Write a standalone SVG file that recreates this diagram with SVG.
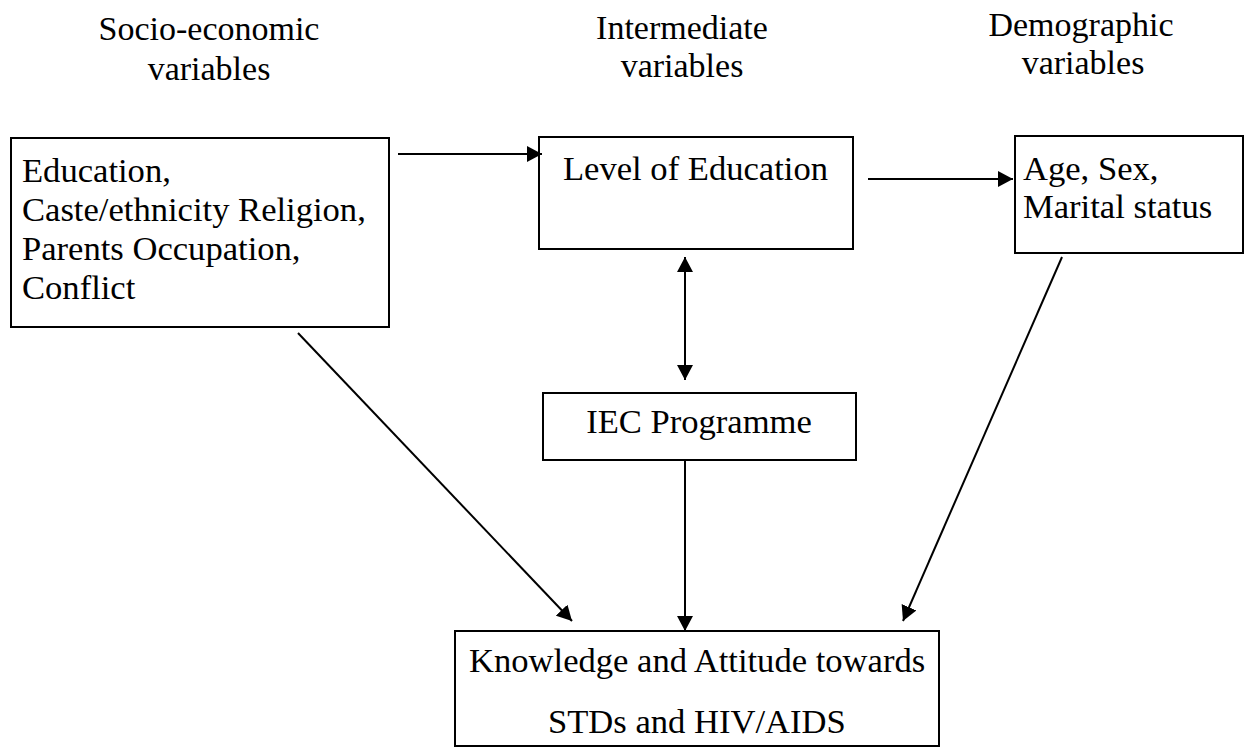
<svg xmlns="http://www.w3.org/2000/svg" width="1246" height="756" viewBox="0 0 1246 756">
<style>
.box{fill:#fff;stroke:#000;stroke-width:2}
.t{font-family:"Liberation Serif","Times New Roman",serif;font-size:34.6px;fill:#000}
.h{font-family:"Liberation Serif","Times New Roman",serif;font-size:34px;fill:#000;text-anchor:middle}
.c{stroke:#000;stroke-width:2;fill:none}
</style>
<defs>
<marker id="ah" markerUnits="userSpaceOnUse" markerWidth="16" markerHeight="16" refX="15" refY="8" orient="auto-start-reverse">
<path d="M0,0 L15,8 L0,16 z" fill="#000"/>
</marker>
</defs>
<g id="headers">
<text class="h" x="209" y="40">Socio-economic</text>
<text class="h" x="209" y="80">variables</text>
<text class="h" x="682" y="39">Intermediate</text>
<text class="h" x="682" y="77">variables</text>
<text class="h" x="1081" y="36">Demographic</text>
<text class="h" x="1083" y="74">variables</text>
</g>
<g id="socio">
<rect class="box" x="11" y="138" width="378" height="189"/>
<text class="t" x="22" y="182">Education,</text>
<text class="t" x="22" y="221">Caste/ethnicity Religion,</text>
<text class="t" x="22" y="260">Parents Occupation,</text>
<text class="t" x="22" y="299">Conflict</text>
</g>
<g id="level">
<rect class="box" x="539" y="137" width="314" height="112"/>
<text class="t" x="563" y="180">Level of Education</text>
</g>
<g id="demo">
<rect class="box" x="1015" y="136" width="228" height="117"/>
<text class="t" x="1023" y="180">Age, Sex,</text>
<text class="t" x="1023" y="218">Marital status</text>
</g>
<g id="iec">
<rect class="box" x="543" y="393" width="313" height="67"/>
<text class="t" x="699" y="433" text-anchor="middle">IEC Programme</text>
</g>
<g id="knowledge">
<rect class="box" x="455" y="631" width="484" height="115"/>
<text class="t" x="469" y="672">Knowledge and Attitude towards</text>
<text class="t" x="548" y="733">STDs and HIV/AIDS</text>
</g>
<g id="connectors">
<line class="c" x1="398" y1="154" x2="542" y2="154" marker-end="url(#ah)"/>
<line class="c" x1="868" y1="179" x2="1013" y2="179" marker-end="url(#ah)"/>
<line class="c" x1="685" y1="257" x2="685" y2="380" marker-start="url(#ah)" marker-end="url(#ah)"/>
<line class="c" x1="685" y1="460" x2="685" y2="631" marker-end="url(#ah)"/>
<line class="c" x1="298" y1="333" x2="572" y2="621" marker-end="url(#ah)"/>
<line class="c" x1="1062" y1="257" x2="903" y2="621" marker-end="url(#ah)"/>
</g>
</svg>
